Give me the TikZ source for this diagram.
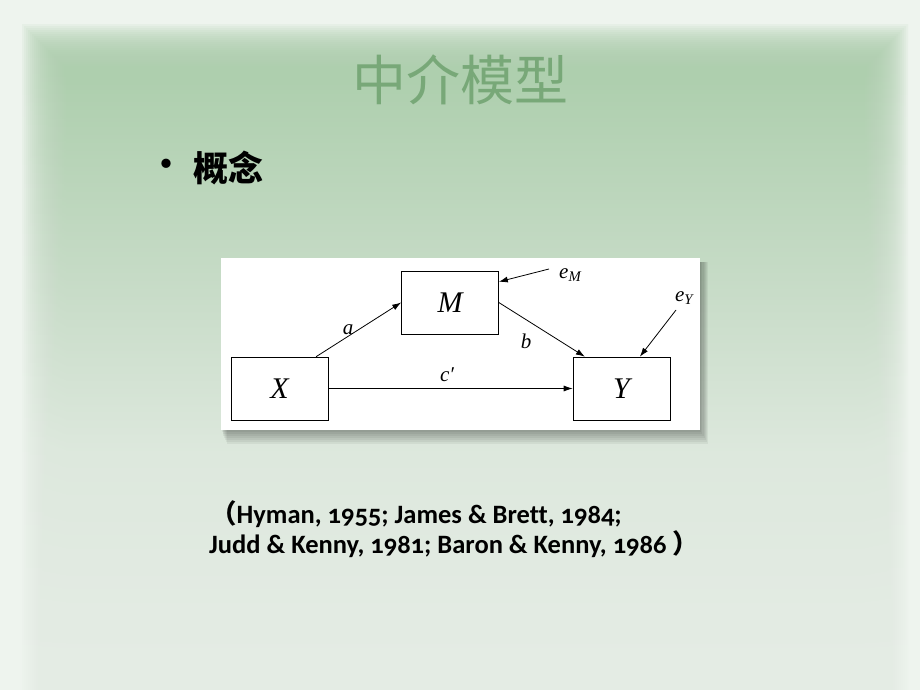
\documentclass[tikz,border=0pt]{standalone}
\usepackage{fontspec}
\usetikzlibrary{positioning,arrows.meta}
\newfontfamily\cjk{Noto Sans CJK SC}
\newfontfamily\citefont[Numbers=OldStyle,Ligatures=CommonOff]{Carlito}
\newfontfamily\tms{Liberation Serif}
\definecolor{bgpale}{HTML}{EEF4EE}
\definecolor{panelgreen}{HTML}{AECFAE}
\definecolor{panelfour}{HTML}{C8DCC8}
\definecolor{panelmid}{HTML}{DDE8DD}
\definecolor{paneltwo}{HTML}{E3EBE3}
\definecolor{panellow}{HTML}{EAF1EA}
\definecolor{titlegreen}{HTML}{78A878}
\pgfdeclareverticalshading{panelfade}{100bp}{color(0bp)=(panellow); color(31bp)=(paneltwo); color(44bp)=(panelmid); color(57bp)=(panelfour); color(74bp)=(panelgreen); color(100bp)=(panelgreen)}
\tikzset{
  var/.style={draw=black, line width=0.6pt, fill=white, minimum width=97pt, minimum height=63pt, inner sep=0pt, font=\fontsize{30}{30}\tms\itshape},
  effect/.style={-{Latex[length=9pt,width=6pt]}, line width=0.8pt},
  coef/.style={font=\fontsize{21}{21}\tms\itshape, inner sep=1pt},
  citeline/.style={anchor=base west, inner sep=0pt, font=\fontsize{26.5}{30}\citefont\bfseries},
}

\begin{document}
\begin{tikzpicture}[x=1pt,y=-1pt]
\useasboundingbox (0,0) rectangle (920,690);
\fill[bgpale] (0,0) rectangle (920,690);
\foreach \d in {0,2,...,44}
  \shade[shading=panelfade, opacity=0.12] (22+\d,25+\d) rectangle (908-\d,690);

\node[text=titlegreen, font=\fontsize{54}{60}\cjk] (title) at (460,80) {中介模型};
\node[font=\fontsize{44}{44}\cjk] (dot) at (166,170) {•};
\node[anchor=west, inner sep=0pt, font=\fontsize{35}{40}\cjk\bfseries] (concept) at (193,168) {概念};

% figure panel
\foreach \s in {2,4,...,14}
  \fill[black, opacity=0.05] (221+0.4*\s,262) rectangle (700+0.6*\s,430+\s);
\fill[white] (221,258) rectangle (700,430);

\node[var] (M) at (450,302.5) {M};
\node[var] (X) at (279.5,388.5) {X};
\node[var] (Y) at (621.5,388.5) {Y};
\coordinate (tM) at (549,269);
\coordinate (tY) at (676,310);

\draw[effect] (X.41) -- (M.west);
\draw[effect] (M.east) -- (Y.139);
\draw[effect] (X.east) -- (Y.west);
\draw[effect] (tM) -- (M.23);
\draw[effect] (tY) -- (Y.60);

\node[coef] (a) at (348,330) {a};
\node[coef] (b) at (526,341) {b};
\node[coef] (c) at (447,375) {c′};
\node[coef, anchor=west] (eM) at (558,275) {e\textsubscript{M}};
\node[coef] (eY) at (684,298) {e\textsubscript{Y}};

\node[citeline] (cite1) at (210,523) {{\cjk （}Hyman, 1955; James \& Brett, 1984;};
\node[citeline] (cite2) at (209,553) {Judd \& Kenny, 1981; Baron \& Kenny, 1986 {\cjk ）}};
\end{tikzpicture}
\end{document}
